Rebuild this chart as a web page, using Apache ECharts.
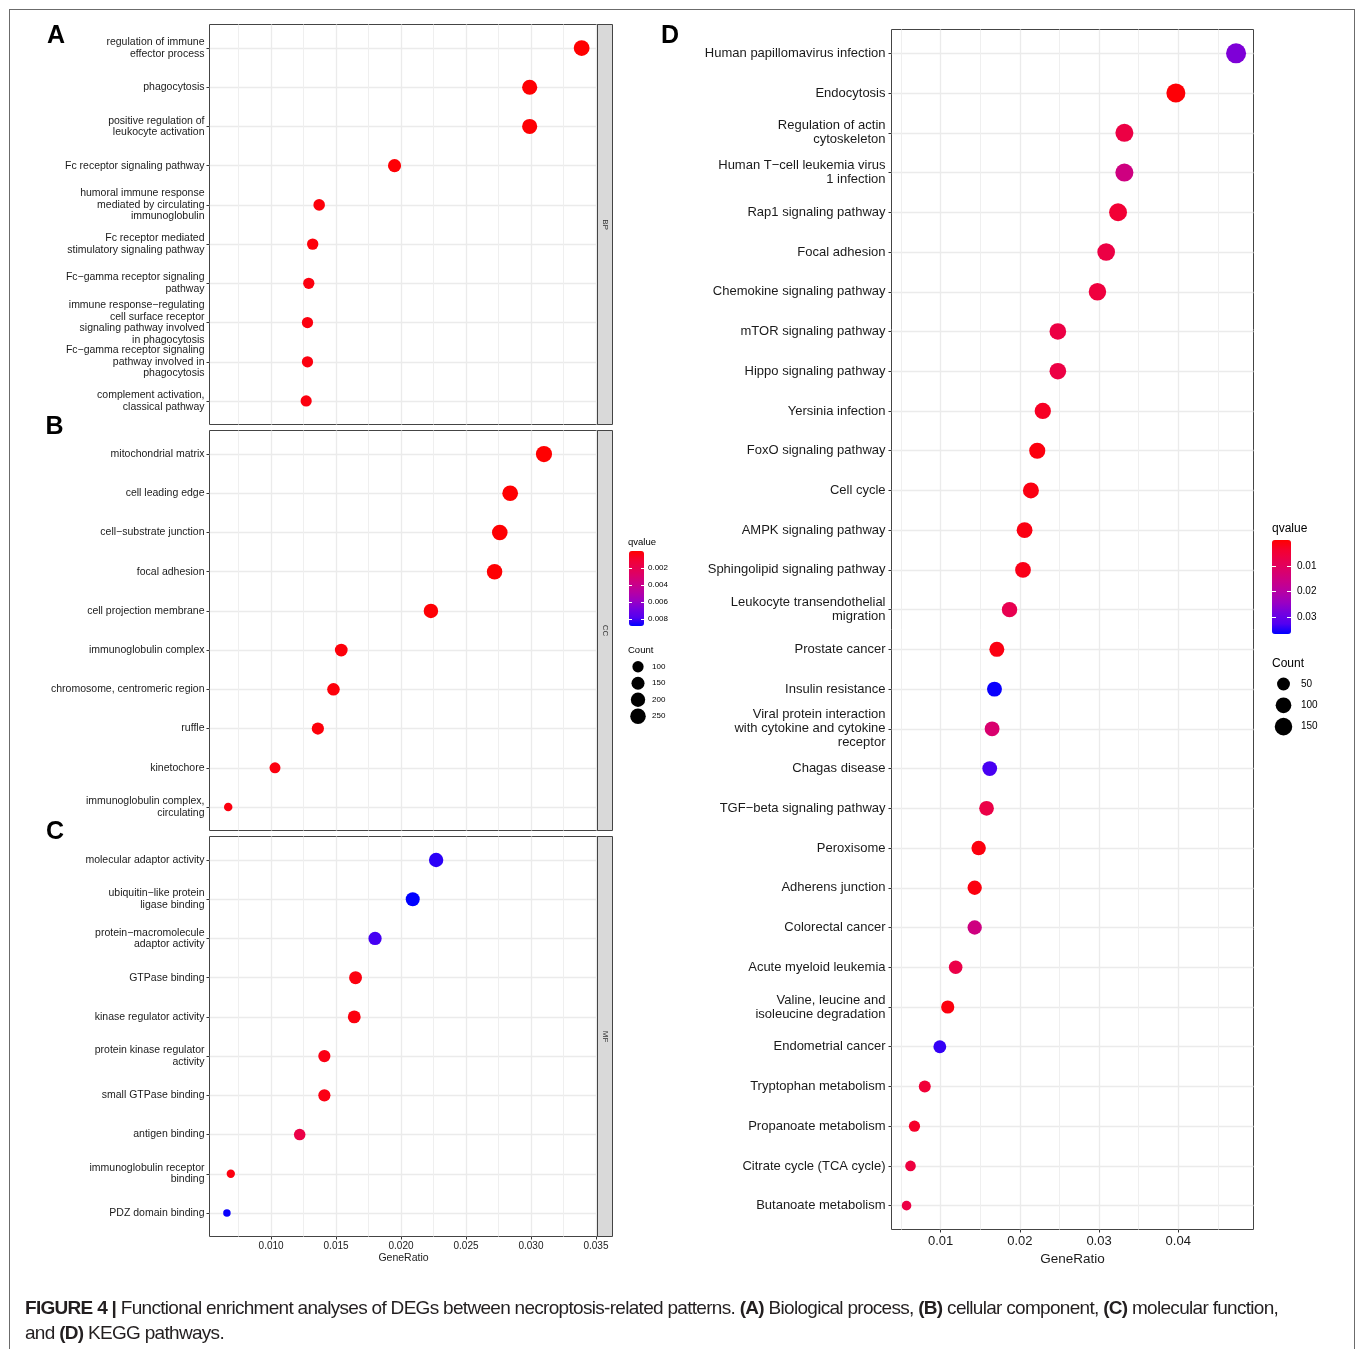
<!DOCTYPE html>
<html>
<head>
<meta charset="utf-8">
<title>Functional enrichment dot plots</title>
<script src="https://cdn.jsdelivr.net/npm/echarts@6.0.0/dist/echarts.min.js"></script>
<style>
  html, body { margin: 0; padding: 0; background: #fff; }
  #wrap { position: relative; width: 1355px; height: 1349px; overflow: hidden; }
  #chart { position: absolute; left: 0; top: 0; width: 1355px; height: 1349px; }
  #frame { position: absolute; left: 9px; top: 9px; width: 1344px; height: 1360px; border: 1px solid #6b6b6b; pointer-events: none; }
  #caption { position: absolute; left: 25px; top: 1295px; font: 19px/25px 'Liberation Sans', Arial, sans-serif; color: #231f20; letter-spacing: -0.7px; white-space: nowrap; }
</style>
</head>
<body>
<div id="wrap">
  <div id="chart"></div>
  <div id="frame"></div>
  <div id="caption"><b>FIGURE 4 |</b> Functional enrichment analyses of DEGs between necroptosis-related patterns. <b>(A)</b> Biological process, <b>(B)</b> cellular component, <b>(C)</b> molecular function,<br>and <b>(D)</b> KEGG pathways.</div>
</div>
<script>
const FONT = "'Liberation Sans', Arial, Helvetica, sans-serif"

// GO biological process (A)
const bpTerms = [
  'regulation of immune\neffector process',
  'phagocytosis',
  'positive regulation of\nleukocyte activation',
  'Fc receptor signaling pathway',
  'humoral immune response\nmediated by circulating\nimmunoglobulin',
  'Fc receptor mediated\nstimulatory signaling pathway',
  'Fc\u2212gamma receptor signaling\npathway',
  'immune response\u2212regulating\ncell surface receptor\nsignaling pathway involved\nin phagocytosis',
  'Fc\u2212gamma receptor signaling\npathway involved in\nphagocytosis',
  'complement activation,\nclassical pathway'
]
const bpRatio = [0.0339, 0.0299, 0.0299, 0.0195, 0.0137, 0.0132, 0.0129, 0.0128, 0.0128, 0.0127]
const bpCount = [264, 233, 233, 152, 107, 103, 101, 100, 100, 99]
const bpQ = [0.00002, 0.00005, 0.00006, 0.0001, 0.0002, 0.0002, 0.0003, 0.0003, 0.0003, 0.0003]

// GO cellular component (B)
const ccTerms = [
  'mitochondrial matrix',
  'cell leading edge',
  'cell\u2212substrate junction',
  'focal adhesion',
  'cell projection membrane',
  'immunoglobulin complex',
  'chromosome, centromeric region',
  'ruffle',
  'kinetochore',
  'immunoglobulin complex,\ncirculating'
]
const ccRatio = [0.0310, 0.0284, 0.0276, 0.0272, 0.0223, 0.0154, 0.0148, 0.0136, 0.0103, 0.0067]
const ccCount = [284, 260, 253, 249, 204, 141, 135, 125, 94, 61]
const ccQ = [0.00002, 0.00004, 0.00005, 0.00005, 0.0001, 0.0002, 0.0002, 0.0002, 0.0003, 0.0003]

// GO molecular function (C)
const mfTerms = [
  'molecular adaptor activity',
  'ubiquitin\u2212like protein\nligase binding',
  'protein\u2212macromolecule\nadaptor activity',
  'GTPase binding',
  'kinase regulator activity',
  'protein kinase regulator\nactivity',
  'small GTPase binding',
  'antigen binding',
  'immunoglobulin receptor\nbinding',
  'PDZ domain binding'
]
const mfRatio = [0.0227, 0.0209, 0.0180, 0.0165, 0.0164, 0.0141, 0.0141, 0.0122, 0.0069, 0.0066]
const mfCount = [200, 184, 158, 145, 144, 124, 124, 108, 60, 58]
const mfQ = [0.0083, 0.0088, 0.0080, 0.0003, 0.0003, 0.0004, 0.0004, 0.0017, 0.0003, 0.0087]

// KEGG pathways (D)
const keggTerms = [
  'Human papillomavirus infection',
  'Endocytosis',
  'Regulation of actin\ncytoskeleton',
  'Human T\u2212cell leukemia virus\n1 infection',
  'Rap1 signaling pathway',
  'Focal adhesion',
  'Chemokine signaling pathway',
  'mTOR signaling pathway',
  'Hippo signaling pathway',
  'Yersinia infection',
  'FoxO signaling pathway',
  'Cell cycle',
  'AMPK signaling pathway',
  'Sphingolipid signaling pathway',
  'Leukocyte transendothelial\nmigration',
  'Prostate cancer',
  'Insulin resistance',
  'Viral protein interaction\nwith cytokine and cytokine\nreceptor',
  'Chagas disease',
  'TGF\u2212beta signaling pathway',
  'Peroxisome',
  'Adherens junction',
  'Colorectal cancer',
  'Acute myeloid leukemia',
  'Valine, leucine and\nisoleucine degradation',
  'Endometrial cancer',
  'Tryptophan metabolism',
  'Propanoate metabolism',
  'Citrate cycle (TCA cycle)',
  'Butanoate metabolism'
]
const keggRatio = [0.0473, 0.0397, 0.0332, 0.0332, 0.0324, 0.0309, 0.0298, 0.0248, 0.0248, 0.0229,
  0.0222, 0.0214, 0.0206, 0.0204, 0.0187, 0.0171, 0.0168, 0.0165, 0.0162, 0.0158,
  0.0148, 0.0143, 0.0143, 0.0119, 0.0109, 0.0099, 0.0080, 0.0067, 0.0062, 0.0057]
const keggCount = [237, 199, 166, 166, 162, 154, 149, 124, 124, 115,
  111, 107, 103, 102, 94, 85, 84, 82, 81, 79,
  74, 72, 72, 60, 54, 49, 40, 34, 31, 29]
const keggQ = [0.0272, 0.0005, 0.0066, 0.0150, 0.0046, 0.0066, 0.0058, 0.0066, 0.0066, 0.0030,
  0.0012, 0.0015, 0.0015, 0.0020, 0.0082, 0.0015, 0.0360, 0.0124, 0.0330, 0.0070,
  0.0012, 0.0012, 0.0150, 0.0072, 0.0012, 0.0340, 0.0050, 0.0035, 0.0060, 0.0068]

// axis ticks and legend breaks
const goTicks = [0.010, 0.015, 0.020, 0.025, 0.030, 0.035]
const goMinorTicks = [0.0075, 0.0125, 0.0175, 0.0225, 0.0275, 0.0325]
const keggTicks = [0.01, 0.02, 0.03, 0.04]
const keggMinorTicks = [0.005, 0.015, 0.025, 0.035, 0.045]
const goQBreaks = [0.002, 0.004, 0.006, 0.008]
const keggQBreaks = [0.01, 0.02, 0.03]
const goCountBreaks = [100, 150, 200, 250]
const keggCountBreaks = [50, 100, 150]

// red -> blue, interpolated like ggplot (Lab space)
const qColors = ['#FF0000', '#F40031', '#E8004F', '#DA006C', '#C90089', '#B500A5', '#9A00C3', '#7300E0', '#5400F0', '#0000FF']

const goAll = bpCount.concat(ccCount, mfCount)
const goMin = Math.min(...goAll)
const goMax = Math.max(...goAll)
const goSize = c => 7.5 + 8.7 * Math.sqrt(Math.max(0, (c - goMin) / (goMax - goMin)))
const keggMin = Math.min(...keggCount)
const keggMax = Math.max(...keggCount)
const keggSize = c => 9.6 + 10.4 * Math.sqrt(Math.max(0, (c - keggMin) / (keggMax - keggMin)))

const dots = (ratio, count, q) => ratio.map((r, i) => [r, i, count[i], q[i]])

const panelGrid = (left, top, width, height) => ({
  left, top, width, height, show: true, backgroundColor: '#fff', borderColor: '#444', borderWidth: 1
})

function termAxis (grid, terms, fontSize, lineHeight, margin) {
  const idx = terms.map((t, i) => i)
  return {
    type: 'value',
    gridIndex: grid,
    min: -0.6,
    max: terms.length - 0.4,
    inverse: true,
    axisLine: { show: false, onZero: false },
    axisTick: { show: true, customValues: idx, length: 3, lineStyle: { color: '#333' } },
    axisLabel: {
      customValues: idx, formatter: v => terms[v], fontSize, lineHeight, margin,
      color: '#1a1a1a', fontFamily: FONT
    },
    splitLine: { show: true, lineStyle: { color: '#EBEBEB', width: 1.3 } }
  }
}

function ratioAxes (grid, min, max, majors, minors, showLabels, decimals, fontSize, nameGap) {
  return [{
    type: 'value',
    gridIndex: grid,
    min,
    max,
    position: 'bottom',
    axisLine: { show: false, onZero: false },
    axisTick: { show: showLabels, customValues: majors, length: 3, lineStyle: { color: '#333' } },
    axisLabel: {
      show: showLabels, customValues: majors, formatter: v => v.toFixed(decimals),
      fontSize, margin: 5, color: '#1a1a1a', fontFamily: FONT
    },
    splitLine: { show: true, lineStyle: { color: '#EBEBEB', width: 1.3 } },
    name: showLabels ? 'GeneRatio' : '',
    nameLocation: 'middle',
    nameGap,
    nameTextStyle: { fontSize: fontSize + 0.5, color: '#1a1a1a', fontFamily: FONT }
  }, {
    type: 'value',
    gridIndex: grid,
    min,
    max,
    position: 'top',
    axisLine: { show: false, onZero: false },
    axisTick: { show: false, customValues: minors },
    axisLabel: { show: false },
    splitLine: { show: true, lineStyle: { color: '#EFEFEF', width: 1 } }
  }]
}

function barAxes (grid, max, breaks, decimals, fontSize, margin, tickLen) {
  const base = {
    type: 'value', gridIndex: grid, min: 0, max, inverse: true, z: 10,
    axisLine: { show: false, onZero: false },
    axisTick: { show: true, inside: true, customValues: breaks, length: tickLen, lineStyle: { color: '#fff', width: 1 } },
    splitLine: { show: false }
  }
  return [
    Object.assign({}, base, { position: 'left', axisLabel: { show: false } }),
    Object.assign({}, base, {
      position: 'right',
      axisLabel: {
        show: true, customValues: breaks, formatter: v => v.toFixed(decimals),
        fontSize, margin, color: '#000', fontFamily: FONT
      }
    })
  ]
}

function sizeAxis (grid, breaks, fontSize, margin) {
  const idx = breaks.map((b, i) => i)
  return {
    type: 'value', gridIndex: grid, min: -0.5, max: breaks.length - 0.5, inverse: true, position: 'right',
    axisLine: { show: false, onZero: false },
    axisTick: { show: false, customValues: idx },
    axisLabel: { customValues: idx, formatter: v => String(breaks[v]), fontSize, margin, color: '#000', fontFamily: FONT },
    splitLine: { show: false }
  }
}

const hiddenX = grid => ({ type: 'value', gridIndex: grid, min: -1, max: 1, show: false })

function label (text, x, y, size, opts) {
  return Object.assign({
    type: 'text', x, y, z: 20,
    style: { text, fontSize: size, fontFamily: FONT, fill: '#000', align: 'left', verticalAlign: 'middle' }
  }, opts || {})
}

function strip (text, top, height) {
  return [{
    type: 'rect', z: 20,
    shape: { x: 597.5, y: top, width: 15, height },
    style: { fill: '#D9D9D9', stroke: '#444', lineWidth: 1 }
  }, {
    type: 'text', z: 21, x: 605, y: top + height / 2, rotation: -Math.PI / 2,
    style: { text, fontSize: 8, fontFamily: FONT, fill: '#333', align: 'center', verticalAlign: 'middle' }
  }]
}

const letter = (text, x, y) => label(text, x, y, 25, {
  style: { text, fontSize: 25, fontWeight: 'bold', fontFamily: FONT, fill: '#000', align: 'center', verticalAlign: 'middle' }
})

const GOL = 209.5
const GOW = 388
const goMinX = 0.00526
const goMaxX = 0.03512

const option = {
  animation: false,
  backgroundColor: '#fff',
  grid: [
    panelGrid(GOL, 24.5, GOW, 400),
    panelGrid(GOL, 430.5, GOW, 400),
    panelGrid(GOL, 836.5, GOW, 400),
    panelGrid(891.5, 29.5, 362, 1200),
    { left: 629, top: 551, width: 15, height: 75 },
    { left: 630, top: 658.5, width: 16, height: 66 },
    { left: 1272, top: 540, width: 19, height: 94 },
    { left: 1274, top: 673.3, width: 19, height: 64 }
  ],
  xAxis: [
    ...ratioAxes(0, goMinX, goMaxX, goTicks, goMinorTicks, false, 3, 10, 16),
    ...ratioAxes(1, goMinX, goMaxX, goTicks, goMinorTicks, false, 3, 10, 16),
    ...ratioAxes(2, goMinX, goMaxX, goTicks, goMinorTicks, true, 3, 10, 16),
    ...ratioAxes(3, 0.0038, 0.0495, keggTicks, keggMinorTicks, true, 2, 13, 19),
    hiddenX(4),
    hiddenX(5),
    hiddenX(6),
    hiddenX(7)
  ],
  yAxis: [
    termAxis(0, bpTerms, 10.5, 11.5, 5),
    termAxis(1, ccTerms, 10.5, 11.5, 5),
    termAxis(2, mfTerms, 10.5, 11.5, 5),
    termAxis(3, keggTerms, 13, 14, 6),
    ...barAxes(4, 0.0088, goQBreaks, 3, 8, 4, 3),
    sizeAxis(5, goCountBreaks, 8, 6),
    ...barAxes(6, 0.0365, keggQBreaks, 2, 10, 6, 4),
    sizeAxis(7, keggCountBreaks, 10, 8)
  ],
  visualMap: [{
    type: 'continuous', seriesIndex: [0, 1, 2], dimension: 3, min: 0, max: 0.0088,
    orient: 'vertical', inverse: true, left: 629, top: 551, itemWidth: 15, itemHeight: 75,
    padding: 0, calculable: false, hoverLink: false, inRange: { color: qColors }
  }, {
    type: 'continuous', seriesIndex: [3], dimension: 3, min: 0, max: 0.0365,
    orient: 'vertical', inverse: true, left: 1272, top: 540, itemWidth: 19, itemHeight: 94,
    padding: 0, calculable: false, hoverLink: false, inRange: { color: qColors }
  }],
  series: [
    { type: 'scatter', xAxisIndex: 0, yAxisIndex: 0, data: dots(bpRatio, bpCount, bpQ), symbolSize: v => goSize(v[2]), itemStyle: { opacity: 1 }, silent: true },
    { type: 'scatter', xAxisIndex: 2, yAxisIndex: 1, data: dots(ccRatio, ccCount, ccQ), symbolSize: v => goSize(v[2]), itemStyle: { opacity: 1 }, silent: true },
    { type: 'scatter', xAxisIndex: 4, yAxisIndex: 2, data: dots(mfRatio, mfCount, mfQ), symbolSize: v => goSize(v[2]), itemStyle: { opacity: 1 }, silent: true },
    { type: 'scatter', xAxisIndex: 6, yAxisIndex: 3, data: dots(keggRatio, keggCount, keggQ), symbolSize: v => keggSize(v[2]), itemStyle: { opacity: 1 }, silent: true },
    { type: 'scatter', xAxisIndex: 9, yAxisIndex: 6, data: goCountBreaks.map((c, i) => [0, i, c]), symbolSize: v => goSize(v[2]), itemStyle: { color: '#000', opacity: 1 }, silent: true },
    { type: 'scatter', xAxisIndex: 11, yAxisIndex: 9, data: keggCountBreaks.map((c, i) => [0, i, c]), symbolSize: v => keggSize(v[2]), itemStyle: { color: '#000', opacity: 1 }, silent: true }
  ],
  graphic: [
    letter('A', 56, 36),
    letter('B', 54.5, 427),
    letter('C', 55, 832.5),
    letter('D', 670, 36),
    ...strip('BP', 24.5, 400),
    ...strip('CC', 430.5, 400),
    ...strip('MF', 836.5, 400),
    label('qvalue', 628, 542, 9.5),
    label('Count', 628, 650.5, 9.5),
    label('qvalue', 1272, 529, 12),
    label('Count', 1272, 664, 12)
  ]
}

const chart = echarts.init(document.getElementById('chart'))
chart.setOption(option)
window.addEventListener('resize', () => chart.resize())
</script>
</body>
</html>
